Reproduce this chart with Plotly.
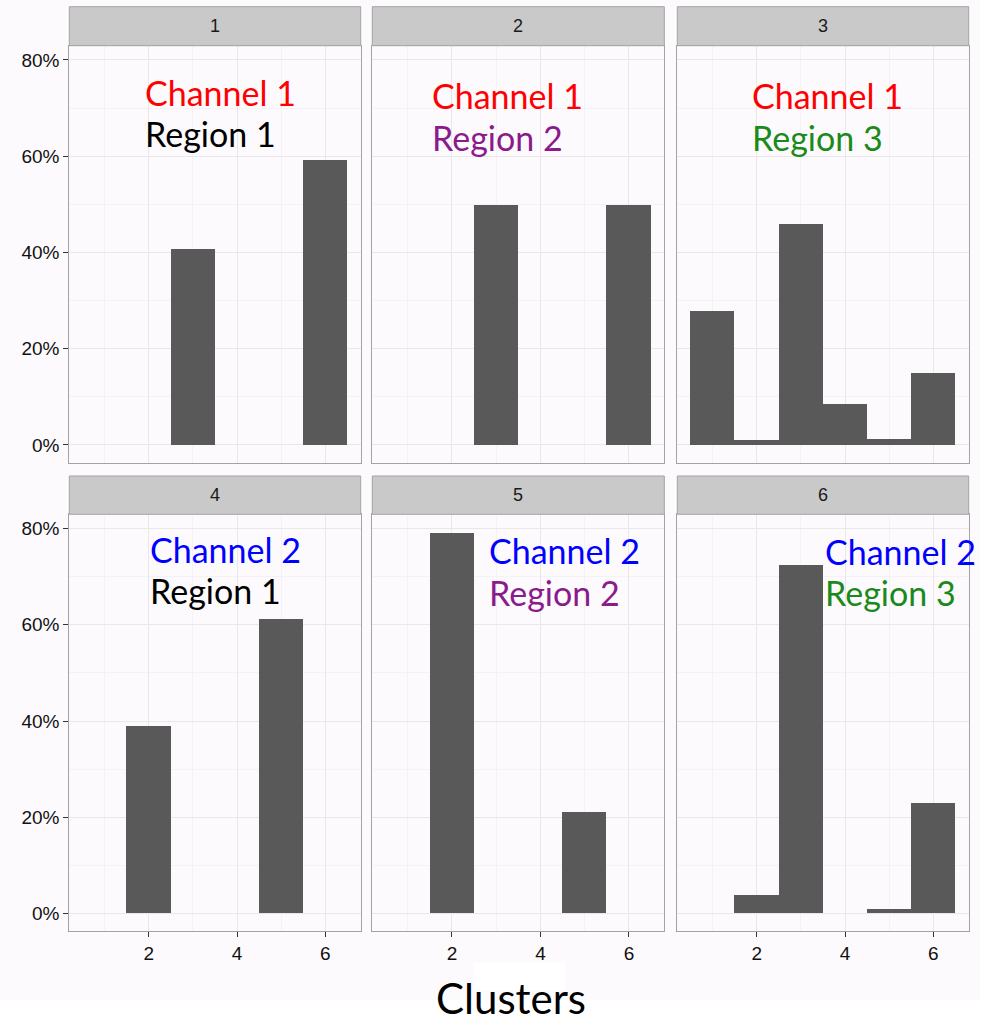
import plotly.graph_objects as go

# ---- data -------------------------------------------------------------
clusters = [1, 2, 3, 4, 5, 6]
panel_ids = ["1", "2", "3", "4", "5", "6"]

# share of customers per cluster (%), one list per facet
share_p1 = [0, 0, 40.7, 0, 0, 59.3]
share_p2 = [0, 0, 50.0, 0, 0, 50.0]
share_p3 = [28.0, 1.0, 45.9, 8.6, 1.4, 15.1]
share_p4 = [0, 38.9, 0, 0, 61.1, 0]
share_p5 = [0, 79.0, 0, 0, 21.0, 0]
share_p6 = [0, 3.8, 72.4, 0, 0.9, 22.9]
shares = [share_p1, share_p2, share_p3, share_p4, share_p5, share_p6]

channel_labels = ["Channel 1", "Channel 1", "Channel 1", "Channel 2", "Channel 2", "Channel 2"]
region_labels = ["Region 1", "Region 2", "Region 3", "Region 1", "Region 2", "Region 3"]
channel_colors = ["#FF0000", "#FF0000", "#FF0000", "#0000FF", "#0000FF", "#0000FF"]
region_colors = ["#000000", "#8B1A8B", "#1A8A1A", "#000000", "#8B1A8B", "#1A8A1A"]

x_ticks = [2, 4, 6]
x_minor = [1, 3, 5]
y_ticks = [0, 20, 40, 60, 80]
y_minor = [10, 30, 50, 70]
y_tick_text = ["0%", "20%", "40%", "60%", "80%"]
x_axis_title = "Clusters"

# ---- geometry (pixels) ------------------------------------------------
W, H = 986, 1027
col_px = [(69.3, 360.7), (372.3, 664.3), (677.3, 968.7)]
row_plot_px = [(45.7, 462.7), (514.3, 931.3)]
row_strip_px = [(6.7, 45.7), (476.0, 514.3)]

def fx(p):
    return p / W

def fy(p):
    return 1 - p / H

BG = "#FDFAFD"
BAR = "#595959"
GRID_MAJOR = "#EAE7EA"
GRID_MINOR = "#F5F1F5"
BORDER = "#A3A3A3"
TICK_FONT = dict(family="Liberation Sans, Arial, sans-serif", size=19, color="#111111")
LABEL_FONT = "Lato, Carlito, Calibri, sans-serif"

fig = go.Figure()
layout = dict(
    width=W, height=H,
    margin=dict(l=0, r=0, t=0, b=0),
    paper_bgcolor="#FFFFFF",
    plot_bgcolor=BG,
    showlegend=False,
    bargap=0,
)

shapes = [
    # light page background of the chart image
    dict(type="rect", xref="paper", yref="paper", x0=0, x1=fx(980), y0=fy(1000), y1=1,
         fillcolor=BG, line=dict(width=0), layer="below"),
    # blank patch under the axis title
    dict(type="rect", xref="paper", yref="paper", x0=fx(474), x1=fx(565), y0=fy(990), y1=fy(963),
         fillcolor="#FFFFFF", line=dict(width=0), layer="below"),
]
annotations = []

for i in range(6):
    r, c = divmod(i, 3)
    ax_id = "" if i == 0 else str(i + 1)
    xa, ya = "xaxis" + ax_id, "yaxis" + ax_id
    x0p, x1p = col_px[c]
    t0p, b0p = row_plot_px[r]

    fig.add_trace(go.Bar(
        x=clusters, y=shares[i], width=1.0,
        marker=dict(color=BAR, line=dict(width=0)),
        xaxis="x" + ax_id, yaxis="y" + ax_id,
        hovertemplate="%{x}: %{y:.1f}%<extra></extra>",
    ))

    show_x = r == 1
    show_y = c == 0
    layout[xa] = dict(
        domain=[fx(x0p), fx(x1p)], anchor="y" + ax_id, range=[0.2, 6.8],
        tickmode="array", tickvals=x_ticks, showticklabels=show_x,
        ticks="outside" if show_x else "", ticklen=5, tickwidth=1.4, tickcolor="#333333",
        tickfont=TICK_FONT,
        showgrid=True, gridcolor=GRID_MAJOR, gridwidth=1,
        minor=dict(tickvals=x_minor, showgrid=True, gridcolor=GRID_MINOR, gridwidth=1, ticks=""),
        showline=True, mirror=True, linecolor=BORDER, linewidth=1,
        zeroline=False, fixedrange=True,
    )
    layout[ya] = dict(
        domain=[fy(b0p), fy(t0p)], anchor="x" + ax_id, range=[-3.68, 82.97],
        tickmode="array", tickvals=y_ticks, ticktext=y_tick_text, showticklabels=show_y,
        ticks="outside" if show_y else "", ticklen=5, tickwidth=1.4, tickcolor="#333333",
        tickfont=TICK_FONT,
        showgrid=True, gridcolor=GRID_MAJOR, gridwidth=1,
        minor=dict(tickvals=y_minor, showgrid=True, gridcolor=GRID_MINOR, gridwidth=1, ticks=""),
        showline=True, mirror=True, linecolor=BORDER, linewidth=1,
        zeroline=False, fixedrange=True,
    )

    # facet strip
    s0, s1 = row_strip_px[r]
    shapes.append(dict(type="rect", xref="paper", yref="paper",
                       x0=fx(x0p), x1=fx(x1p), y0=fy(s1), y1=fy(s0),
                       fillcolor="#C9C9C9", line=dict(color=BORDER, width=1)))
    annotations.append(dict(xref="paper", yref="paper", x=fx((x0p + x1p) / 2), y=fy((s0 + s1) / 2),
                            text=panel_ids[i], showarrow=False, xanchor="center", yanchor="middle",
                            font=dict(family="Liberation Sans, Arial, sans-serif", size=18, color="#1A1A1A")))

# channel / region labels inside each facet: (left x, channel y, region y)
label_pos = [(143, 92, 134), (430, 96, 137), (750, 96, 137),
             (148, 549, 590), (487, 550, 592), (823, 551, 592)]
for i, (lx, cy, ry) in enumerate(label_pos):
    annotations.append(dict(xref="paper", yref="paper", x=fx(lx), y=fy(cy), text=channel_labels[i],
                            showarrow=False, xanchor="left", yanchor="middle",
                            font=dict(family=LABEL_FONT, size=34, color=channel_colors[i])))
    annotations.append(dict(xref="paper", yref="paper", x=fx(lx), y=fy(ry), text=region_labels[i],
                            showarrow=False, xanchor="left", yanchor="middle",
                            font=dict(family=LABEL_FONT, size=34, color=region_colors[i])))

annotations.append(dict(xref="paper", yref="paper", x=fx(511), y=fy(998), text=x_axis_title,
                        showarrow=False, xanchor="center", yanchor="middle",
                        font=dict(family=LABEL_FONT, size=42, color="#000000")))

layout["shapes"] = shapes
layout["annotations"] = annotations
fig.update_layout(**layout)

fig.write_html("out.html")
